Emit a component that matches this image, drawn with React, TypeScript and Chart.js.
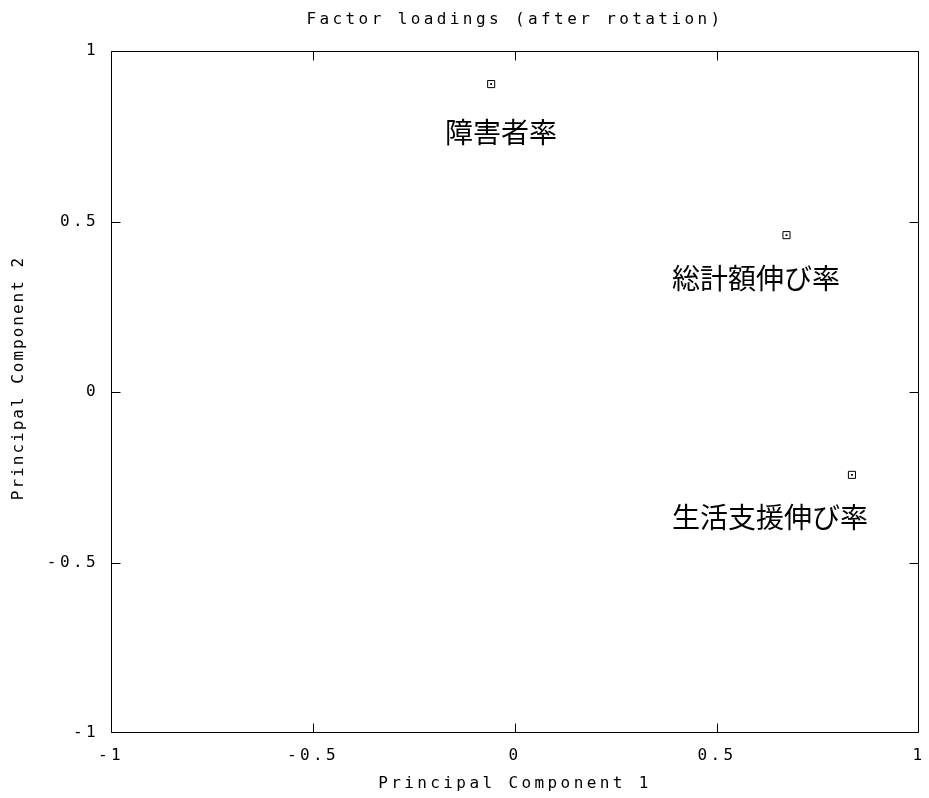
import React, { useEffect, useRef } from 'react';
import { Chart, registerables } from 'chart.js';

Chart.register(...registerables);

// ---- data ----
const variableNames = ['障害者率', '総計額伸び率', '生活支援伸び率'];
const pc1Loadings = [-0.059, 0.672, 0.834];
const pc2Loadings = [0.903, 0.46, -0.243];
// label anchor (left edge, vertical middle) in data units
const labelX = [-0.171, 0.391, 0.391];
const labelY = [0.765, 0.337, -0.364];

const xTickValues = [-1, -0.5, 0, 0.5, 1];
const xTickLabels = ['-1', '-0.5', '0', '0.5', '1'];
const yTickValues = [-1, -0.5, 0, 0.5, 1];
const yTickLabels = ['-1', '-0.5', '0', '0.5', '1'];

const chartTitle = 'Factor loadings (after rotation)';
const xAxisTitle = 'Principal Component 1';
const yAxisTitle = 'Principal Component 2';

const MONO = '"DejaVu Sans Mono", "Liberation Mono", monospace';
const CJK = '"Noto Sans CJK JP", "Noto Sans CJK SC", sans-serif';

const gnuplotFrame = {
  id: 'gnuplotFrame',
  beforeDraw(chart: any) {
    const ctx = chart.ctx as CanvasRenderingContext2D;
    ctx.save();
    ctx.fillStyle = '#fff';
    ctx.fillRect(0, 0, chart.width, chart.height);
    ctx.restore();
    (ctx as any).letterSpacing = '3.4px';
  },
  afterDraw(chart: any) {
    const ctx = chart.ctx as CanvasRenderingContext2D;
    const a = chart.chartArea;
    const xs = chart.scales.x;
    const ys = chart.scales.y;
    ctx.save();
    ctx.strokeStyle = '#000';
    ctx.lineWidth = 1;
    const L = Math.round(a.left) + 0.5;
    const R = Math.round(a.right) - 0.5;
    const T = Math.round(a.top) + 0.5;
    const B = Math.round(a.bottom) - 0.5;
    ctx.beginPath();
    ctx.rect(L, T, R - L, B - T);
    const tl = 9;
    xTickValues.forEach((v) => {
      const px = Math.min(R, Math.max(L, Math.round(xs.getPixelForValue(v)) + 0.5));
      ctx.moveTo(px, B);
      ctx.lineTo(px, B - tl);
      ctx.moveTo(px, T);
      ctx.lineTo(px, T + tl);
    });
    yTickValues.forEach((v) => {
      const py = Math.min(B, Math.max(T, Math.round(ys.getPixelForValue(v)) + 0.5));
      ctx.moveTo(L, py);
      ctx.lineTo(L + tl, py);
      ctx.moveTo(R, py);
      ctx.lineTo(R - tl, py);
    });
    ctx.stroke();

    // titles
    ctx.fillStyle = '#000';
    ctx.font = `16px ${MONO}`;
    (ctx as any).letterSpacing = '3.4px';
    ctx.textAlign = 'center';
    ctx.textBaseline = 'middle';
    const cx = (a.left + a.right) / 2;
    ctx.fillText(chartTitle, cx, a.top - 31);
    ctx.fillText(xAxisTitle, cx, a.bottom + 51);
    ctx.save();
    (ctx as any).letterSpacing = '2px';
    ctx.translate(a.left - 92, (a.top + a.bottom) / 2 - 14);
    ctx.rotate(-Math.PI / 2);
    ctx.fillText(yAxisTitle, 0, 0);
    ctx.restore();

    // point labels
    (ctx as any).letterSpacing = '0px';
    ctx.font = `28px ${CJK}`;
    ctx.textAlign = 'left';
    ctx.textBaseline = 'middle';
    variableNames.forEach((name, i) => {
      const px = xs.getPixelForValue(labelX[i]);
      const py = ys.getPixelForValue(labelY[i]);
      ctx.fillText(name, px - 1, py + 1);
    });
    ctx.restore();
    (ctx as any).letterSpacing = '3.4px';
  },
};

export default function App() {
  const ref = useRef<HTMLCanvasElement | null>(null);

  useEffect(() => {
    if (!ref.current) return;
    const points = pc1Loadings.map((v, i) => ({ x: v, y: pc2Loadings[i] }));
    const tickFont = { family: MONO, size: 16 };
    const chart = new Chart(ref.current, {
      type: 'scatter',
      data: {
        datasets: [
          {
            label: 'loadings',
            data: points,
            pointStyle: 'rect',
            pointRadius: 5,
            pointBorderWidth: 1,
            pointBorderColor: '#000',
            pointBackgroundColor: 'rgba(0,0,0,0)',
          },
          {
            label: 'centers',
            data: points,
            pointStyle: 'rect',
            pointRadius: 1.3,
            pointBorderWidth: 0,
            pointBackgroundColor: '#000',
          },
        ],
      },
      options: {
        animation: false,
        responsive: false,
        events: [],
        layout: { padding: { top: 51, right: 10, left: 0, bottom: 0 } },
        plugins: {
          legend: { display: false },
          tooltip: { enabled: false },
          title: { display: false },
        },
        scales: {
          x: {
            type: 'linear',
            min: -1,
            max: 1,
            afterBuildTicks: (s: any) => {
              s.ticks = xTickValues.map((v) => ({ value: v }));
            },
            afterFit: (s: any) => {
              s.height = 65;
              s.paddingLeft = 0;
              s.paddingRight = 0;
            },
            ticks: {
              autoSkip: false,
              maxRotation: 0,
              padding: 13,
              color: '#000',
              font: tickFont,
              callback: (v: any) => xTickLabels[xTickValues.indexOf(Number(v))],
            },
            grid: { display: false, drawTicks: false },
            border: { display: false },
          },
          y: {
            type: 'linear',
            min: -1,
            max: 1,
            afterBuildTicks: (s: any) => {
              s.ticks = yTickValues.map((v) => ({ value: v }));
            },
            afterFit: (s: any) => {
              s.width = 111;
              s.paddingTop = 0;
              s.paddingBottom = 0;
            },
            ticks: {
              autoSkip: false,
              padding: 12,
              color: '#000',
              font: tickFont,
              callback: (v: any) => yTickLabels[yTickValues.indexOf(Number(v))],
            },
            grid: { display: false, drawTicks: false },
            border: { display: false },
          },
        },
      },
      plugins: [gnuplotFrame],
    } as any);
    return () => chart.destroy();
  }, []);

  return (
    <div style={{ position: 'fixed', left: 0, top: 0, width: 929, height: 798, background: '#fff' }}>
      <canvas ref={ref} width={929} height={798} style={{ width: 929, height: 798, display: 'block' }} />
    </div>
  );
}
